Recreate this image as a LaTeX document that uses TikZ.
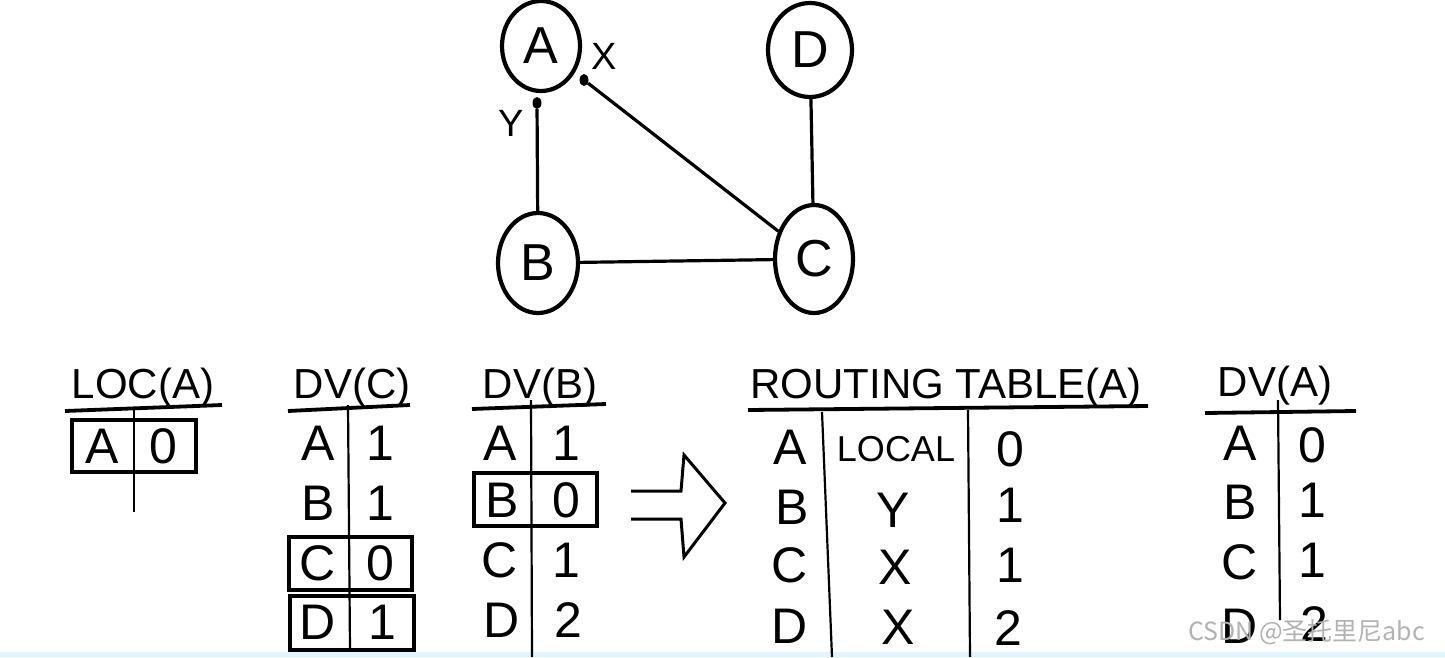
\documentclass[tikz,border=0pt]{standalone}
\usepackage{fontspec}
\setmainfont{Liberation Sans}
\newfontfamily\wmfont{Noto Sans CJK SC}
\usetikzlibrary{shapes.geometric}
\tikzset{
  gnode/.style={ellipse, draw, line width=4.2pt, inner sep=0pt, font=\fontsize{52}{52}\selectfont},
  edge/.style={line width=3.2pt},
  cell/.style={inner sep=0pt, anchor=center, font=\fontsize{50}{50}\selectfont},
  smallcell/.style={inner sep=0pt, anchor=center, font=\fontsize{36}{36}\selectfont},
  ttl/.style={inner sep=0pt, anchor=base, font=\fontsize{42}{42}\selectfont},
  uline/.style={line width=3.8pt},
  vline/.style={line width=2.2pt},
  hbox/.style={draw, line width=4.2pt},
  portlbl/.style={inner sep=0pt, font=\fontsize{38}{38}\selectfont},
  portdot/.style={ellipse, fill=black, inner sep=0pt, minimum width=9pt, minimum height=12pt},
  bigarrow/.style={line width=3pt, line join=miter},
  wmark/.style={inner sep=0pt, anchor=west, text=black!30, font=\wmfont\fontsize{25}{25}\selectfont}
}
\begin{document}
\begin{tikzpicture}[x=1pt,y=-1pt]
\useasboundingbox (0,0) rectangle (1445,657);
\fill[white] (0,0) rectangle (1445,657);
\fill[cyan!12] (0,652) rectangle (1445,657);

% graph
\node[gnode, minimum width=78pt, minimum height=90pt] (A) at (541,46) {A};
\node[gnode, minimum width=84pt, minimum height=94pt] (D) at (810,50) {D};
\node[gnode, minimum width=80pt, minimum height=100pt] (B) at (538,263) {B};
\node[gnode, minimum width=78pt, minimum height=108pt] (C) at (814,259) {C};
\node[portdot] (yA) at (537,103) {};
\node[portdot] (xA) at (584,80) {};
\node[portlbl] (xl) at (604,56) {X};
\node[portlbl] (yl) at (511,123) {Y};
\draw[edge] (yA) -- (B);
\draw[edge] (xA) -- (C);
\draw[edge] (D) -- (C);
\draw[edge] (B) -- (C);

% LOC(A)
\node[ttl] (locT) at (143,398) {LOC(A)};
\draw[uline] (65,411) -- (222,405);
\draw[vline] (134,410) -- (134,512);
\draw[hbox] (72,420) rectangle (196,472);
\node[cell] (locA) at (102,446) {A};
\node[cell] (loc0) at (163,446) {0};

% DV(C)
\node[ttl] (dvcT) at (352,398) {DV(C)};
\draw[uline] (288,411) -- (410,405);
\draw[vline] (348,405) -- (350,650);
\draw[hbox] (289,537) rectangle (412,590);
\draw[hbox] (290,596) rectangle (414,650);
\node[cell] (dvcA) at (318,443) {A};
\node[cell] (dvcA1) at (380,443) {1};
\node[cell] (dvcB) at (318,503) {B};
\node[cell] (dvcB1) at (380,503) {1};
\node[cell] (dvcC) at (318,563) {C};
\node[cell] (dvcC0) at (380,563) {0};
\node[cell] (dvcD) at (318,622) {D};
\node[cell] (dvcD1) at (382,622) {1};

% DV(B)
\node[ttl] (dvbT) at (540,398) {DV(B)};
\draw[uline] (472,409) -- (606,404);
\draw[vline] (531,400) -- (532,657);
\draw[hbox] (474,473) rectangle (597,526);
\node[cell] (dvbA) at (500,443) {A};
\node[cell] (dvbA1) at (566,443) {1};
\node[cell] (dvbB) at (502,500) {B};
\node[cell] (dvbB0) at (566,500) {0};
\node[cell] (dvbC) at (500,560) {C};
\node[cell] (dvbC1) at (566,560) {1};
\node[cell] (dvbD) at (502,620) {D};
\node[cell] (dvbD2) at (568,620) {2};

% big arrow
\draw[bigarrow] (631,491) -- (681,491) -- (684,455) -- (725,503) -- (684,557) -- (681,519) -- (631,519);

% ROUTING TABLE(A)
\node[ttl] (rtT) at (946,398) {ROUTING TABLE(A)};
\draw[uline] (748,410) -- (1148,406);
\draw[vline] (822,412) -- (832,657);
\draw[vline] (968,410) -- (970,657);
\node[cell] (rtA) at (790,447) {A};
\node[smallcell] (rtAl) at (896,449) {LOCAL};
\node[cell] (rtA0) at (1010,449) {0};
\node[cell] (rtB) at (792,507) {B};
\node[cell] (rtBy) at (893,510) {Y};
\node[cell] (rtB1) at (1010,505) {1};
\node[cell] (rtC) at (790,565) {C};
\node[cell] (rtCx) at (895,567) {X};
\node[cell] (rtC1) at (1010,565) {1};
\node[cell] (rtD) at (790,626) {D};
\node[cell] (rtDx) at (898,627) {X};
\node[cell] (rtD2) at (1008,628) {2};

% DV(A)
\node[ttl] (dvaT) at (1275,396) {DV(A)};
\draw[uline] (1205,413) -- (1356,411);
\draw[vline] (1278,400) -- (1280,620);
\node[cell] (dvaA) at (1240,443) {A};
\node[cell] (dvaA0) at (1312,445) {0};
\node[cell] (dvaB) at (1240,502) {B};
\node[cell] (dvaB1) at (1312,500) {1};
\node[cell] (dvaC) at (1240,562) {C};
\node[cell] (dvaC1) at (1312,560) {1};
\node[cell] (dvaD) at (1240,626) {D};
\node[cell] (dvaD2) at (1314,624) {2};

% watermark
\node[wmark] (wm) at (1188,632) {CSDN @圣托里尼abc};
\end{tikzpicture}
\end{document}
